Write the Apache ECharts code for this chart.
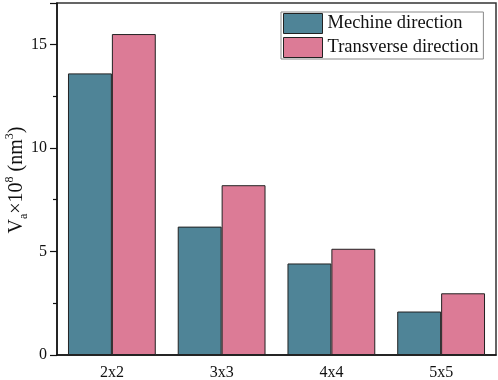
<!DOCTYPE html>
<html>
<head>
<meta charset="utf-8">
<script src="https://cdn.jsdelivr.net/npm/echarts@6/dist/echarts.min.js"></script>
<style>
  html, body { margin: 0; padding: 0; background: #fff; }
  #chart { width: 498px; height: 380px; }
</style>
</head>
<body>
<div id="chart"></div>
<script>
// data
var categories = ['2x2', '3x3', '4x4', '5x5'];
var machineDir = [13.6, 6.2, 4.42, 2.1];
var transverseDir = [15.5, 8.2, 5.13, 2.98];
var seriesNames = ['Mechine direction', 'Transverse direction'];

var serif = '"Liberation Serif", "DejaVu Serif", serif';

var chart = echarts.init(document.getElementById('chart'));

var option = {
    animation: false,
    backgroundColor: '#fff',
    grid: {
        left: 57,
        right: 2,
        top: 3,
        bottom: 25,
        outerBoundsMode: 'none',
        containLabel: false,
        show: true,
        borderColor: '#333',
        borderWidth: 1.5
    },
    legend: {
        orient: 'vertical',
        left: 281,
        top: 12,
        padding: [1, 5, 1, 2],
        icon: 'rect',
        itemWidth: 39,
        itemHeight: 20,
        itemGap: 3,
        borderColor: '#888',
        borderWidth: 1,
        backgroundColor: '#fff',
        itemStyle: { borderColor: '#222', borderWidth: 1 },
        textStyle: { fontFamily: serif, fontSize: 18.5, color: '#111', padding: [0, 0, 0, 0] },
        data: seriesNames
    },
    // y axis title drawn as rotated rich text
    graphic: [{
        type: 'text',
        x: 17,
        y: 180,
        rotation: Math.PI / 2,
        style: {
            text: '{m|V}{sub|a}{m|×10}{sup|8}{m| (nm}{sup|3}{m|)}',
            align: 'center',
            verticalAlign: 'middle',
            fill: '#111',
            fontFamily: serif,
            rich: {
                m: { fontFamily: serif, fontSize: 20, fill: '#111', lineHeight: 26, verticalAlign: 'middle' },
                sub: { fontFamily: serif, fontSize: 12, fill: '#111', lineHeight: 26, verticalAlign: 'bottom' },
                sup: { fontFamily: serif, fontSize: 12, fill: '#111', lineHeight: 26, verticalAlign: 'top' }
            }
        }
    }],
    xAxis: [{
        type: 'category',
        data: categories,
        axisLine: { lineStyle: { color: '#111', width: 1.5 } },
        axisTick: { alignWithLabel: true, length: 7, lineStyle: { color: '#111', width: 1.2 } },
        axisLabel: { fontFamily: serif, fontSize: 16, color: '#111', margin: 10 }
    }, {
        type: 'category',
        data: categories,
        position: 'bottom',
        axisLine: { show: false },
        axisTick: { length: 4, lineStyle: { color: '#111', width: 1.2 } },
        axisLabel: { show: false }
    }],
    yAxis: {
        type: 'value',
        min: 0,
        max: 17,
        interval: 5,
        splitLine: { show: false },
        axisLine: { show: true, lineStyle: { color: '#111', width: 1.5 } },
        axisTick: { show: true, length: 7, lineStyle: { color: '#111', width: 1.2 } },
        minorTick: { show: true, splitNumber: 2, length: 4, lineStyle: { color: '#111', width: 1.2 } },
        axisLabel: { fontFamily: serif, fontSize: 16, color: '#111', margin: 10,
            formatter: function (v) { return v % 5 === 0 ? v : ''; } }
    },
    series: [{
        name: seriesNames[0],
        type: 'bar',
        data: machineDir,
        barGap: '0%',
        barCategoryGap: '20%',
        itemStyle: { color: '#4f8497', borderColor: '#222', borderWidth: 1 }
    }, {
        name: seriesNames[1],
        type: 'bar',
        data: transverseDir,
        barGap: '0%',
        barCategoryGap: '20%',
        itemStyle: { color: '#dc7b96', borderColor: '#222', borderWidth: 1 }
    }]
};

chart.setOption(option);
</script>
</body>
</html>
